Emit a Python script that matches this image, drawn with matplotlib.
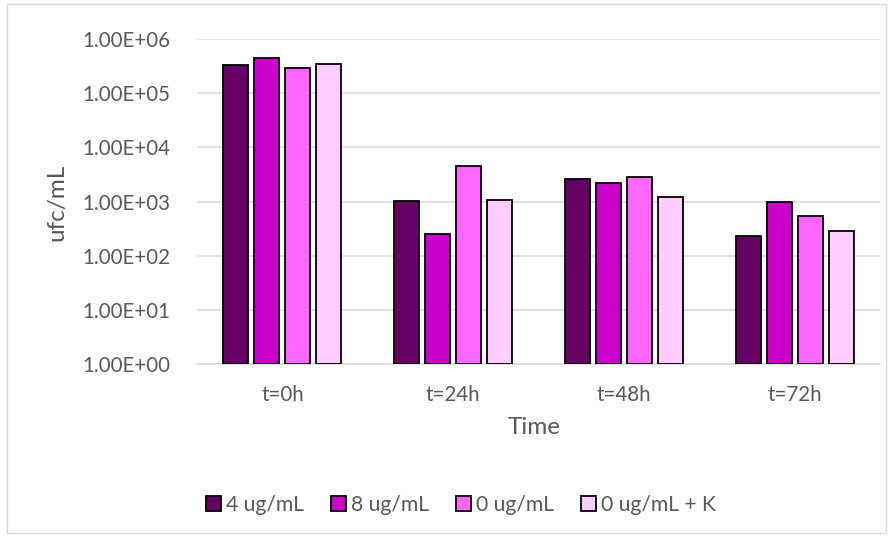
import matplotlib.pyplot as plt
import matplotlib.ticker as mticker
import matplotlib.transforms as mtrans
import numpy as np
from matplotlib.patches import Rectangle

plt.rcParams['font.family'] = ['Lato', 'DejaVu Sans']

times = ['t=0h', 't=24h', 't=48h', 't=72h']
series = ['4 ug/mL', '8 ug/mL', '0 ug/mL', '0 ug/mL + K']
c4 = [3.3e5, 1.0e3, 2.6e3, 2.25e2]
c8 = [4.4e5, 2.5e2, 2.2e3, 9.6e2]
c0 = [2.9e5, 4.6e3, 2.8e3, 5.5e2]
c0k = [3.5e5, 1.06e3, 1.22e3, 2.9e2]
colors = ['#660066', '#CC00CC', '#FF66FF', '#FFCCFF']
grey = '#595959'

W, H = 893, 536
fig = plt.figure(figsize=(W / 100, H / 100), dpi=100)
renderer = fig.canvas.get_renderer()


def fit_size(text, target_px, base=12):
    # font size that gives the text the width measured on the reference
    t = fig.text(0, 0, text, fontsize=base)
    w = t.get_window_extent(renderer).width
    t.remove()
    return base * target_px / w


fs_tick = fit_size('1.00E+06', 88)
fs_leg = fit_size('8 ug/mL', 78)
fs_title = fit_size('ufc/mL', 77)

ax = fig.add_axes([197 / W, 1 - 364 / H, (880 - 197) / W, (364 - 39) / H])

x = np.arange(len(times))
step = 31 / 170.75
bw = 25 / 170.75
for i, (vals, lab) in enumerate(zip([c4, c8, c0, c0k], series)):
    ax.bar(x + (i - 1.5) * step, vals, bw, bottom=1, color=colors[i],
           edgecolor='black', linewidth=1.3, label=lab, zorder=3)

ax.set_yscale('log')
ax.set_ylim(1, 1e6)
ax.set_xlim(-0.5, 3.5)
ax.yaxis.set_major_locator(mticker.LogLocator(base=10, numticks=10))
ax.yaxis.set_minor_locator(mticker.NullLocator())
ax.yaxis.set_major_formatter(mticker.FuncFormatter(
    lambda v, p: '{:.2E}'.format(v)))
ax.set_xticks(x)
ax.set_xticklabels([])
ax.tick_params(length=0, labelsize=fs_tick, colors=grey)
ax.tick_params(axis='y', pad=19)
ax.grid(axis='y', color='#D9D9D9', linewidth=1.1, zorder=0)
for s in ['top', 'right', 'left']:
    ax.spines[s].set_visible(False)
ax.spines['bottom'].set_color('#D9D9D9')
ax.spines['bottom'].set_linewidth(1.1)

# category labels, centred 31 px under the axis line
trans = mtrans.blended_transform_factory(ax.transData, fig.transFigure)
for xi, lab in zip(x, times):
    ax.text(xi, 1 - 395 / H, lab, transform=trans, ha='center', va='center',
            fontsize=fs_tick, color=grey)

fig.text(57 / W, 1 - 202 / H, 'ufc/mL', rotation=90, ha='center',
         va='center', fontsize=fs_title, color=grey)
fig.text(534 / W, 1 - 428 / H, 'Time', ha='center', va='center',
         fontsize=fs_title, color=grey)

fpx = fs_leg * 100 / 72
fig.legend(loc='center', bbox_to_anchor=(461 / W, 1 - 505 / H), ncol=4,
           frameon=False, fontsize=fs_leg, handlelength=15 / fpx,
           handleheight=15 / fpx, handletextpad=5 / fpx,
           columnspacing=27 / fpx, labelcolor=grey)

fig.patches.append(Rectangle((7 / W, 3 / H), (886 - 7) / W, (532 - 3) / H,
                             transform=fig.transFigure, fill=False,
                             edgecolor='#D9D9D9', linewidth=1))

fig.savefig('out.png', dpi=100)
